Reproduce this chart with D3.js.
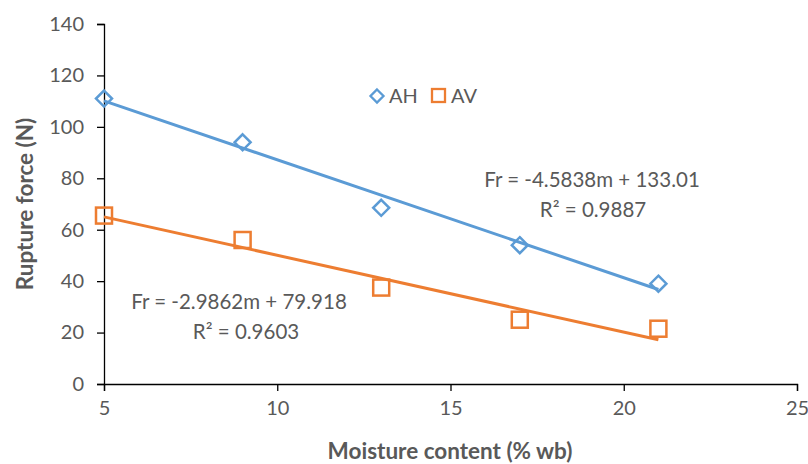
<html>
<head>
<script src="https://d3js.org/d3.v7.min.js"></script>
<style>
body { margin: 0; background: #fff; }
text { font-family: Lato, "Open Sans", sans-serif; fill: #595959; }
</style>
</head>
<body>
<script>
var moisture = [5, 9, 13, 17, 21];
var forceAH = [111, 94, 68.5, 54, 39];
var forceAV = [65.5, 56, 37.5, 25, 21.5];
var fitAH = { slope: -4.5838, icpt: 133.01, r2: "0.9887" };
var fitAV = { slope: -2.9862, icpt: 79.918, r2: "0.9603" };
var xTicks = [5, 10, 15, 20, 25];
var yTicks = [0, 20, 40, 60, 80, 100, 120, 140];

var w = 808, h = 464;
var blue = "#5B9BD5", orange = "#ED7D31";

var svg = d3.select("body").append("svg").attr("width", w).attr("height", h);

var x = d3.scaleLinear().domain([5, 25]).range([104, 797]);
var y = d3.scaleLinear().domain([0, 140]).range([384, 24]);

// axes
var yAxis = svg.append("g").attr("transform", "translate(104,0)")
    .call(d3.axisLeft(y).tickValues(yTicks).tickSize(7).tickPadding(13));
var xAxis = svg.append("g").attr("transform", "translate(0,384)")
    .call(d3.axisBottom(x).tickValues(xTicks).tickSize(7).tickPadding(10));
[xAxis, yAxis].forEach(function(g) {
    g.select(".domain").attr("stroke", "#000").attr("stroke-width", 1.3);
    g.selectAll(".tick line").attr("stroke", "#000").attr("stroke-width", 1.3);
    g.selectAll(".tick text").attr("font-size", 20).style("fill", "#595959");
});

svg.append("text").attr("transform", "translate(33,204) rotate(-90)")
    .attr("text-anchor", "middle").attr("font-size", 22.5).attr("font-weight", "bold")
    .text("Rupture force (N)");
svg.append("text").attr("x", 450).attr("y", 459)
    .attr("text-anchor", "middle").attr("font-size", 22.5).attr("font-weight", "bold")
    .text("Moisture content (% wb)");

// trendlines
function trend(fit, color) {
    svg.append("line")
        .attr("x1", x(5)).attr("y1", y(fit.icpt + fit.slope * 5))
        .attr("x2", x(21)).attr("y2", y(fit.icpt + fit.slope * 21))
        .attr("stroke", color).attr("stroke-width", 3);
}
trend(fitAH, blue);
trend(fitAV, orange);

// markers
svg.selectAll(".ah").data(moisture).enter().append("path")
    .attr("class", "ah")
    .attr("d", "M0,-8L8,0L0,8L-8,0Z")
    .attr("transform", function(d, i) { return "translate(" + x(d) + "," + y(forceAH[i]) + ")"; })
    .attr("fill", "none").attr("stroke", blue).attr("stroke-width", 2.5);
svg.selectAll(".av").data(moisture).enter().append("rect")
    .attr("class", "av")
    .attr("x", function(d) { return x(d) - 8; })
    .attr("y", function(d, i) { return y(forceAV[i]) - 8; })
    .attr("width", 16).attr("height", 16)
    .attr("fill", "none").attr("stroke", orange).attr("stroke-width", 2.5);

// legend
svg.append("path").attr("d", "M0,-6.5L6.5,0L0,6.5L-6.5,0Z").attr("transform", "translate(377,96)")
    .attr("fill", "none").attr("stroke", blue).attr("stroke-width", 2.3);
svg.append("text").attr("x", 389).attr("y", 103).attr("font-size", 20).text("AH");
svg.append("rect").attr("x", 432).attr("y", 89).attr("width", 13).attr("height", 13)
    .attr("fill", "none").attr("stroke", orange).attr("stroke-width", 2.3);
svg.append("text").attr("x", 451).attr("y", 103).attr("font-size", 20).text("AV");

// equations
function eq(fit, cx, cx2, cy) {
    svg.append("text").attr("x", cx).attr("y", cy).attr("text-anchor", "middle").attr("font-size", 20.5)
        .text("Fr = " + fit.slope + "m + " + fit.icpt);
    svg.append("text").attr("x", cx2).attr("y", cy + 30).attr("text-anchor", "middle").attr("font-size", 20.5)
        .text("R\u00B2 = " + fit.r2);
}
eq(fitAH, 592, 593, 187);
eq(fitAV, 239, 246, 309);
</script>
</body>
</html>
